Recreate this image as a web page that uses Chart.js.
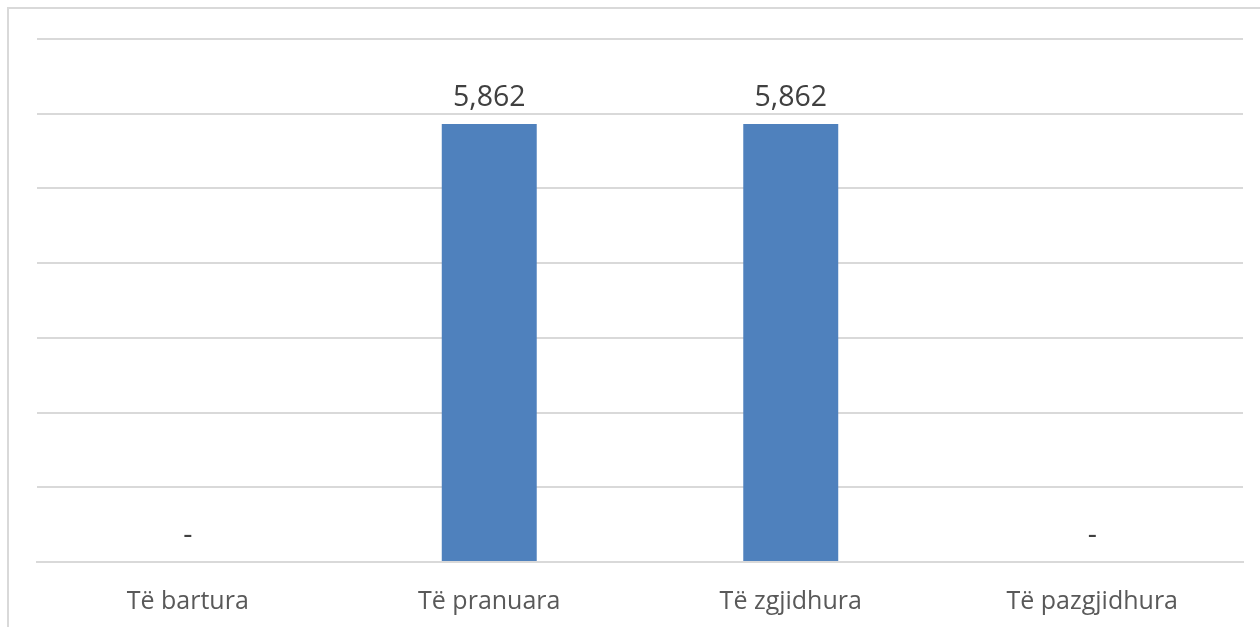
<!DOCTYPE html>
<html>
<head>
<meta charset="utf-8">
<script src="https://cdn.jsdelivr.net/npm/chart.js@4.4.0/dist/chart.umd.min.js"></script>
<style>
  html, body { margin: 0; padding: 0; background: #fff; }
  #wrap { position: relative; width: 1260px; height: 627px; overflow: hidden; }
  #frame { position: absolute; left: 7px; top: 7px; right: -10px; bottom: -10px;
           border-left: 2px solid #d9d9d9; border-top: 2px solid #d9d9d9; }
  canvas { position: absolute; left: 0; top: 0; }
</style>
</head>
<body>
<div id="wrap">
  <div id="frame"></div>
  <canvas id="chart" width="1260" height="627"></canvas>
</div>
<script>
const categories = ["Të bartura", "Të pranuara", "Të zgjidhura", "Të pazgjidhura"];
const values = [0, 5862, 5862, 0];
const yMax = 7000;
const yStep = 1000;

// etiketat mbi shtyllat, "-" kur vlera eshte zero
const valueLabels = {
    id: "valueLabels",
    afterDatasetsDraw(chart) {
        const ctx = chart.ctx;
        const meta = chart.getDatasetMeta(0);
        ctx.save();
        ctx.font = "28.5px 'Open Sans'";
        ctx.fillStyle = "#404040";
        ctx.textAlign = "center";
        ctx.textBaseline = "bottom";
        meta.data.forEach((bar, i) => {
            const v = values[i];
            const text = v === 0 ? "-" : v.toLocaleString("en-US");
            ctx.fillText(text, bar.x, bar.y - 12);
        });
        ctx.restore();
    }
};

new Chart(document.getElementById("chart"), {
    type: "bar",
    data: {
        labels: categories,
        datasets: [{
            data: values,
            backgroundColor: "#4f81bd",
            borderWidth: 0,
            categoryPercentage: 1,
            barPercentage: 0.315,
        }],
    },
    options: {
        responsive: false,
        animation: false,
        layout: { padding: { left: 37, right: 17, top: 39, bottom: -7 } },
        plugins: {
            legend: { display: false },
            tooltip: { enabled: false },
        },
        scales: {
            x: {
                grid: { display: false },
                border: { color: "#d9d9d9", width: 2 },
                ticks: {
                    color: "#595959",
                    font: { family: "'Open Sans'", size: 25 },
                    padding: 17,
                    maxRotation: 0,
                },
            },
            y: {
                min: 0,
                max: yMax,
                ticks: { display: false, stepSize: yStep },
                grid: { color: "#d9d9d9", lineWidth: 2, drawTicks: false },
                border: { display: false },
            },
        },
    },
    plugins: [valueLabels],
});
</script>
</body>
</html>
